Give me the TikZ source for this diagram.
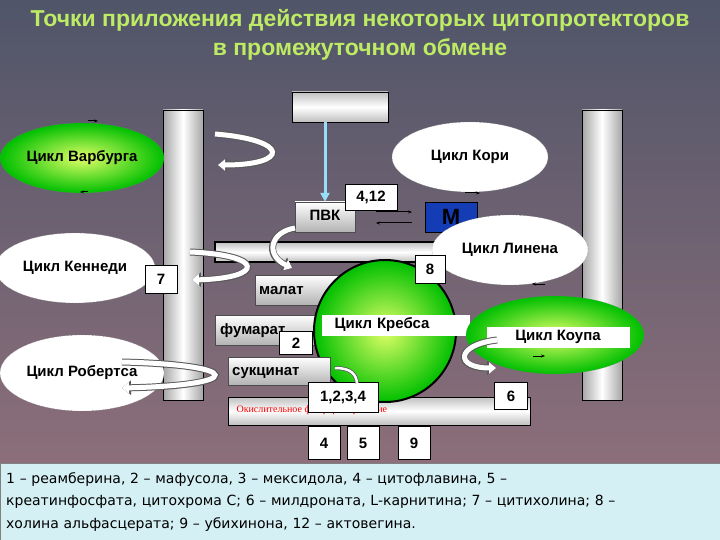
\documentclass[tikz,border=0pt]{standalone}
\usepackage{fontspec}
\setmainfont{Liberation Sans}
\newfontfamily\serifr{Liberation Serif}
\newfontfamily\legf{DejaVu Sans}
\usetikzlibrary{arrows.meta,shapes.geometric}
\definecolor{ttl}{RGB}{190,235,100}
\definecolor{legbg}{RGB}{212,240,244}
\definecolor{mblue}{RGB}{20,60,180}
\tikzset{
 x=1pt,y=-1pt,
 numbox/.style={draw=black,fill=white,minimum width=32,minimum height=28,inner sep=0,font=\bfseries\fontsize{15}{17}\selectfont},
 greybox/.style={draw=gray!60!black,top color=white,bottom color=gray!60,minimum height=30,inner sep=3,text height=11,text depth=3,font=\bfseries\fontsize{15}{17}\selectfont,anchor=west},
 whiteell/.style={ellipse,draw=gray,densely dotted,fill=white,inner sep=0,font=\bfseries\fontsize{15}{17}\selectfont},
 greenell/.style={ellipse,draw=gray,densely dotted,inner color=green!20!yellow!60,outer color=green!75!black,inner sep=0,font=\bfseries\fontsize{15}{17}\selectfont},
 vpillar/.style={draw=black,left color=gray!70,right color=gray!70,middle color=white},
 hbar/.style={draw=black,top color=gray!50,bottom color=gray!50,middle color=white},
 curv/.style={line width=7pt,draw=gray!70!black,-{Triangle[length=9pt,width=14pt]}},
 curvin/.style={line width=5pt,draw=white,-{Triangle[length=7pt,width=11pt]}},
 small/.style={-{Stealth[length=4pt]},line width=1pt,black}
}
\begin{document}
\begin{tikzpicture}
\shade[top color={rgb,255:red,80;green,85;blue,105},bottom color={rgb,255:red,150;green,115;blue,125}] (0,0) rectangle (720,540);
\useasboundingbox (0,0) rectangle (720,540);
% title
\node[text=ttl,font=\bfseries\fontsize{23}{29}\selectfont,align=center] (title) at (360,35) {Точки приложения действия некоторых цитопротекторов\\в промежуточном обмене};
% pillars and bars
\path[vpillar] (163,110) rectangle (203,400);
\path[vpillar] (582,110) rectangle (622,400);
\path[hbar] (292,92) rectangle (388,122);
\path[hbar,line width=2pt] (215,242) rectangle (440,262);
\path[hbar] (228,397) rectangle (530,425);
\node[anchor=west,text=red,font=\serifr\fontsize{10}{12}\selectfont] (ox) at (233,410) {Окислительное фосфорилирование};
% ellipses
\node[greenell,minimum width=164,minimum height=70] (warb) at (82,158) {Цикл Варбурга};
\node[whiteell,minimum width=156,minimum height=70] (kori) at (470,157) {Цикл Кори};
\node[whiteell,minimum width=160,minimum height=70] (kenn) at (75,268) {Цикл Кеннеди};
\node[whiteell,minimum width=164,minimum height=76] (rob) at (82,373) {Цикл Робертса};
% boxes
\node[greybox,minimum width=60,anchor=center] (pvk) at (325,217) {ПВК};
\node[numbox,minimum width=52,minimum height=26] (n412) at (371,197) {4,12};
\node[draw=black,fill=mblue,minimum width=52,minimum height=30,inner sep=0,font=\bfseries\fontsize{22}{24}\selectfont] (m) at (451,217) {М};
\node[greybox,minimum width=103,text width=95] (malat) at (255,290) {малат};
\node[greybox,minimum width=110,text width=100] (fum) at (215,330) {фумарат};
% Krebs
\node[circle,draw=black,line width=2pt,inner color=green!20!yellow!60,outer color=green!75!black,minimum size=142] (krebs) at (385,331) {};
\node[fill=white,minimum width=148,minimum height=21,inner sep=0,anchor=west,text width=135,font=\bfseries\fontsize{15}{17}\selectfont] (krl) at (322,325) {\hspace{6pt}Цикл Кребса};
\node[greybox,minimum width=102,minimum height=28,text width=94] (succ) at (228,371) {сукцинат};
\node[whiteell,minimum width=156,minimum height=70] (lin) at (510,250) {Цикл Линена};
% Coupa
\node[greenell,minimum width=178,minimum height=78] (coupa) at (555,335) {};
\node[fill=white,minimum width=143,minimum height=21,inner sep=0,font=\bfseries\fontsize{15}{17}\selectfont] (cl) at (558,337) {Цикл Коупа};
% number boxes
\node[numbox] (n7) at (161,279) {7};
\node[numbox,minimum width=30] (n8) at (430,269) {8};
\node[numbox,minimum width=33,minimum height=23] (n2) at (296,343) {2};
\node[numbox,minimum width=70,minimum height=30] (n1234) at (343,397) {1,2,3,4};
\node[numbox,minimum width=33,minimum height=27] (n6) at (511,396) {6};
\node[numbox,minimum height=33] (n4) at (324,443) {4};
\node[numbox,minimum height=33] (n5) at (363,443) {5};
\node[numbox,minimum height=33] (n9) at (414,443) {9};
% arrows
\draw[-{Triangle[length=9pt,width=9pt]},line width=3pt,cyan!40!white] (325,122) -- (pvk.north);
\draw[small] (376,212) -- (412,212);
\draw[small] (412,223) -- (376,223);
\draw[small] (465,193) -- (480,193);
\draw[small] (545,284) -- (532,284);
\draw[small] (533,356) -- (545,356);
\draw[small] (88,121) -- (98,121);
\draw[small] (88,192) -- (80,192);
% curved block arrows
\foreach \s in {curv,curvin}{
 \draw[\s] (215,134) .. controls (290,140) and (290,165) .. (218,165);
 \draw[\s] (295,228) .. controls (270,232) and (265,255) .. (292,268);
 \draw[\s] (190,252) .. controls (265,255) and (265,278) .. (192,280);
 \draw[\s] (122,362) .. controls (245,365) and (245,385) .. (122,388);
 \draw[\s] (497,340) .. controls (455,345) and (455,368) .. (496,368);
}
\draw[line width=4pt,gray!70!black] (335,368) .. controls (352,368) and (356,375) .. (357,383);
\draw[line width=2.5pt,white] (335,368) .. controls (352,368) and (356,375) .. (357,383);
% legend
\node[fill=legbg,draw=gray,anchor=north west,minimum width=720,minimum height=77,text width=708,align=left,inner sep=6,inner ysep=6,font=\legf\fontsize{14}{22.5}\selectfont] (leg) at (0,463) {1 – реамберина, 2 – мафусола, 3 – мексидола, 4 – цитофлавина, 5 –\\креатинфосфата, цитохрома С; 6 – милдроната, L-карнитина; 7 – цитихолина; 8 –\\холина альфасцерата; 9 – убихинона, 12 – актовегина.};
\end{tikzpicture}
\end{document}
